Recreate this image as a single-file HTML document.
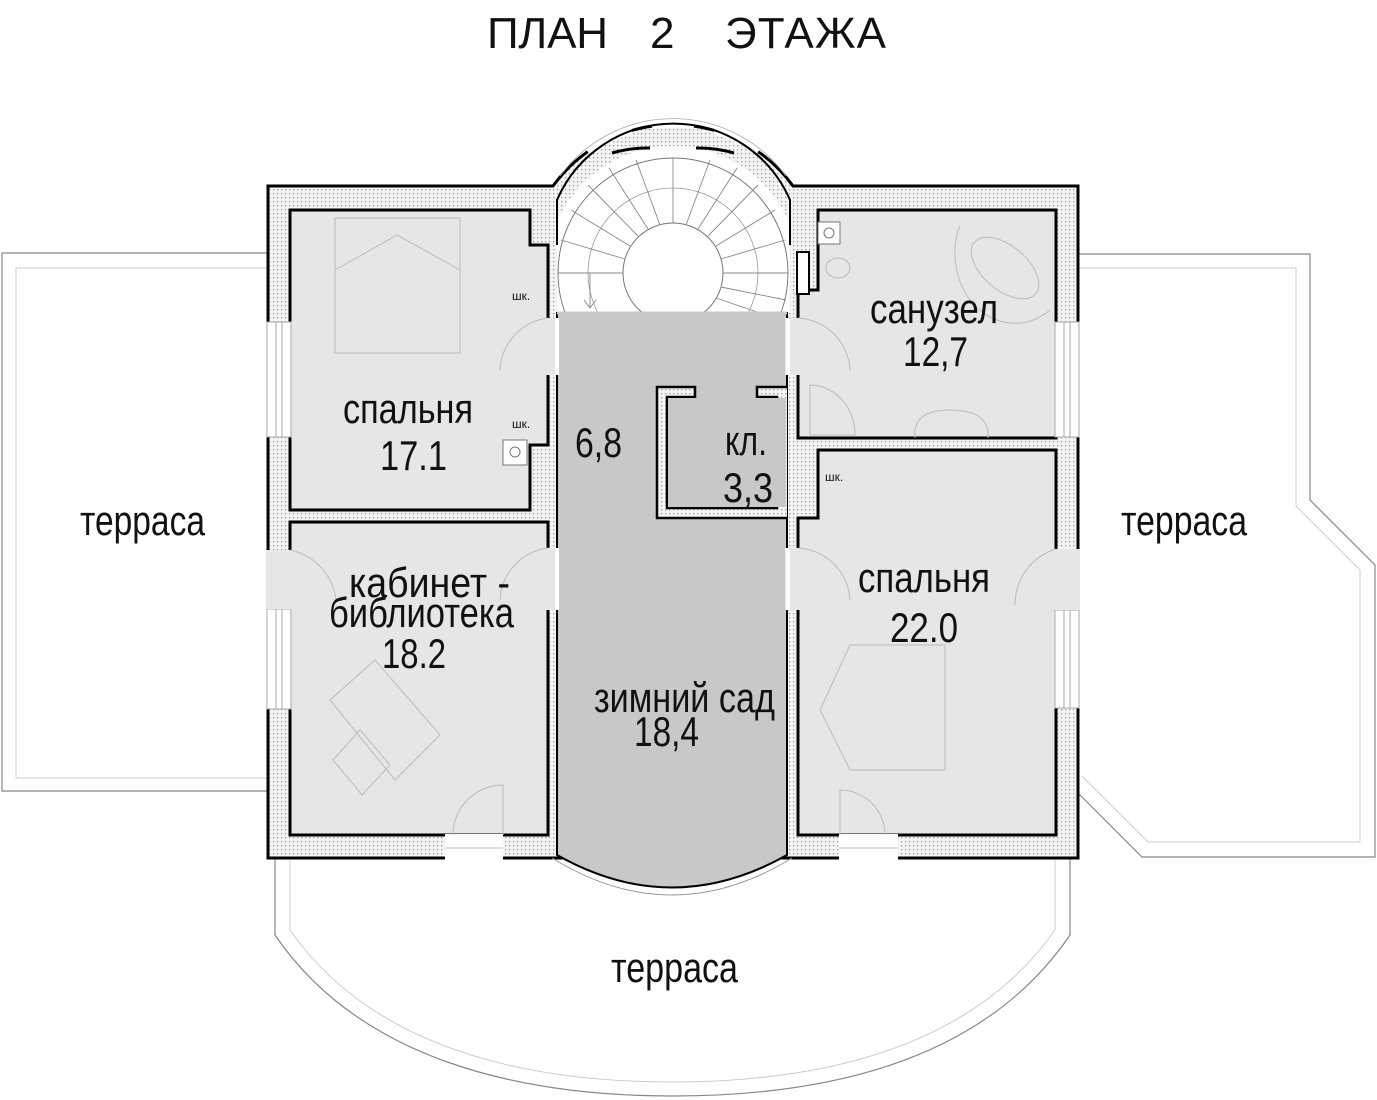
<!DOCTYPE html>
<html><head><meta charset="utf-8"><style>
html,body{margin:0;padding:0;background:#fff;}
svg{display:block;}
text{font-family:"Liberation Sans",sans-serif;fill:#111;}
</style></head><body>
<svg width="1377" height="1100" viewBox="0 0 1377 1100" xmlns="http://www.w3.org/2000/svg">
<defs>
<pattern id="dots" width="4" height="4" patternUnits="userSpaceOnUse">
<rect width="4" height="4" fill="#f4f4f4"/><rect x="1" y="1" width="1.3" height="1.3" fill="#9a9a9a"/>
</pattern>
<clipPath id="stairclip"><rect x="557" y="120" width="233" height="193"/></clipPath>
</defs>

<text x="487" y="48" font-size="44" textLength="121">ПЛАН</text>
<text x="650" y="48" font-size="44">2</text>
<text x="725" y="48" font-size="44" textLength="161">ЭТАЖА</text>

<g fill="none" stroke="#888" stroke-width="1.2">
<path d="M268,253 H2 V791 H268"/>
<path d="M1078,254 H1310 V500 L1375,565 V857 H1142 L1078,793"/>
<path d="M275,858 V935 C360,1060 520,1096 672,1096 C830,1096 985,1060 1070,935 V858"/>
</g>
<g fill="none" stroke="#ccc" stroke-width="1">
<path d="M268,268 H16 V778 H268"/>
<path d="M1078,268 H1296 V506 L1360,570 V842 H1148 L1082,776"/>
<path d="M290,860 V930 C372,1048 525,1082 672,1082 C822,1082 972,1048 1055,930 V860"/>
</g>

<path d="M268,186 L553,186 A148,148 0 0 1 793,186 L1078,186 L1078,858 L268,858 Z" fill="url(#dots)" stroke="#000" stroke-width="3"/>
<g fill="none" stroke="#fff" stroke-width="6">
<path d="M588,152 A148,148 0 0 1 632,131"/>
<path d="M652,126 A148,148 0 0 1 694,126"/>
<path d="M714,131 A148,148 0 0 1 758,152"/>
</g>
<g fill="none" stroke="#aaa" stroke-width="0.8">
<path d="M560,176 A140,140 0 0 1 786,176"/>
</g>

<g clip-path="url(#stairclip)">
<circle cx="673" cy="273" r="127" fill="#fff"/>
<circle cx="673" cy="273" r="115" fill="#fff" stroke="#777" stroke-width="1"/>
<circle cx="673" cy="273" r="50" fill="#fff" stroke="#777" stroke-width="1"/>
<circle cx="673" cy="273" r="85" fill="none" stroke="#999" stroke-width="0.8"/>
<g stroke="#888" stroke-width="0.9">
<line x1="623" y1="273" x2="558" y2="273"/>
<line x1="625" y1="259" x2="561" y2="240"/>
<line x1="630" y1="246" x2="571" y2="210"/>
<line x1="638" y1="236" x2="588" y2="185"/>
<line x1="648" y1="229" x2="609" y2="168"/>
<line x1="660" y1="225" x2="636" y2="160"/>
<line x1="673" y1="223" x2="673" y2="158"/>
<line x1="686" y1="225" x2="710" y2="160"/>
<line x1="698" y1="229" x2="737" y2="168"/>
<line x1="708" y1="236" x2="758" y2="185"/>
<line x1="716" y1="246" x2="775" y2="210"/>
<line x1="721" y1="259" x2="785" y2="240"/>
<line x1="723" y1="273" x2="788" y2="273"/>
<line x1="721" y1="287" x2="786" y2="300"/>
<line x1="716" y1="298" x2="760" y2="313"/>
<line x1="590" y1="273" x2="590" y2="308"/>
<polyline points="584,300 590,308 596,300" fill="none"/>
</g>
</g>
<path d="M557,245 L557,200 A127,127 0 0 1 790,200 L790,245" fill="none" stroke="#000" stroke-width="2"/>
<g fill="none" stroke="#000" stroke-width="3">
<path d="M612,153 A127,127 0 0 1 650,148"/>
<path d="M696,148 A127,127 0 0 1 734,153"/>
</g>

<path d="M290,210 H530 V245 H548 V445 H530 V510 H290 Z" fill="#e6e6e6" stroke="#000" stroke-width="3"/>
<path d="M290,522 H548 V835 H290 Z" fill="#e6e6e6" stroke="#000" stroke-width="3"/>
<path d="M557,313 H787 V855 Q672,920 557,855 Z" fill="#c8c8c8" stroke="#000" stroke-width="2"/>
<path d="M557,313 H787" stroke="#c8c8c8" stroke-width="3"/>
<path d="M552,858 Q672,932 792,858" fill="none" stroke="#999" stroke-width="1"/>
<path d="M787,387 H757 V397 H777 V508 H667 V397 H695 V387 H657 V518 H787" fill="url(#dots)" stroke="#000" stroke-width="2.5"/>
<rect x="668" y="398" width="118" height="109" fill="#c8c8c8"/>
<path d="M818,210 H1056 V438 H798 V290 H818 Z" fill="#e6e6e6" stroke="#000" stroke-width="3"/>
<path d="M818,450 H1056 V835 H798 V518 H818 Z" fill="#e6e6e6" stroke="#000" stroke-width="3"/>

<rect x="546" y="318" width="13" height="57" fill="#e6e6e6"/>
<rect x="546" y="548" width="13" height="62" fill="#e6e6e6"/>
<rect x="785" y="318" width="15" height="57" fill="#e6e6e6"/>
<rect x="785" y="548" width="15" height="62" fill="#e6e6e6"/>
<line x1="557" y1="318" x2="557" y2="375" stroke="#fff" stroke-width="4"/>
<line x1="557" y1="548" x2="557" y2="610" stroke="#fff" stroke-width="4"/>
<line x1="788" y1="318" x2="788" y2="375" stroke="#fff" stroke-width="4"/>
<line x1="788" y1="548" x2="788" y2="610" stroke="#fff" stroke-width="4"/>

<g fill="#fff" stroke="#aaa" stroke-width="1">
<rect x="267" y="322" width="24" height="115"/>
<rect x="267" y="609" width="24" height="100"/>
<rect x="1055" y="322" width="24" height="115"/>
<rect x="1055" y="610" width="24" height="98"/>
</g>
<g stroke="#aaa" stroke-width="1">
<line x1="276" y1="322" x2="276" y2="437"/><line x1="282" y1="322" x2="282" y2="437"/>
<line x1="276" y1="609" x2="276" y2="709"/><line x1="282" y1="609" x2="282" y2="709"/>
<line x1="1064" y1="322" x2="1064" y2="437"/><line x1="1070" y1="322" x2="1070" y2="437"/>
<line x1="1064" y1="610" x2="1064" y2="708"/><line x1="1070" y1="610" x2="1070" y2="708"/>
</g>
<rect x="266" y="550" width="26" height="59" fill="#e6e6e6"/>
<rect x="1054" y="549" width="26" height="61" fill="#e6e6e6"/>
<rect x="445" y="834" width="58" height="26" fill="#fff"/>
<rect x="839" y="834" width="59" height="26" fill="#fff"/>
<line x1="445" y1="848" x2="503" y2="848" stroke="#bbb"/>
<line x1="839" y1="848" x2="898" y2="848" stroke="#bbb"/>

<g fill="none" stroke="#bbb" stroke-width="1">
<path d="M503,835 V785 A50,50 0 0 0 453,835"/>
<path d="M840,835 V790 A45,45 0 0 1 885,835"/>
<path d="M290,550 A58,58 0 0 1 336,600"/>
<path d="M1056,549 A58,58 0 0 0 1015,605"/>
<path d="M548,318 A55,55 0 0 0 500,370"/>
<path d="M798,318 A55,55 0 0 1 850,370"/>
<path d="M548,548 A55,55 0 0 0 500,600"/>
<path d="M798,548 A55,55 0 0 1 850,600"/>
<rect x="335" y="218" width="125" height="135"/>
<path d="M335,270 L397,235 L460,270"/>
<path d="M330,700 L375,660 L440,735 L395,780 Z"/>
<path d="M333,760 L360,730 L390,765 L362,795 Z"/>
<path d="M820,710 L850,645 H945 V770 H850 Z"/>
<path d="M960,225 A60,70 0 0 0 1050,310"/>
<ellipse cx="1005" cy="268" rx="40" ry="22" transform="rotate(40 1005 268)"/>
<path d="M915,438 Q912,410 950,410 Q990,410 988,438"/>
<path d="M810,385 A45,50 0 0 1 855,435 H810 Z"/>
<ellipse cx="838" cy="268" rx="12" ry="10"/>
</g>
<g fill="#fff" stroke="#777" stroke-width="1">
<rect x="503" y="440" width="24" height="25"/><circle cx="515" cy="452" r="5"/>
<rect x="818" y="222" width="22" height="22"/><circle cx="829" cy="233" r="5"/>
<rect x="797" y="252" width="12" height="42" stroke="#000" stroke-width="2"/>
</g>

<text x="512" y="300" font-size="12">шк.</text>
<text x="512" y="428" font-size="12">шк.</text>
<text x="825" y="481" font-size="12">шк.</text>

<g font-size="42">
<text x="343" y="423" textLength="130" lengthAdjust="spacingAndGlyphs">спальня</text>
<text x="380" y="470" textLength="67" lengthAdjust="spacingAndGlyphs">17.1</text>
<text x="575" y="457" textLength="47" lengthAdjust="spacingAndGlyphs">6,8</text>
<text x="725" y="455" textLength="42" lengthAdjust="spacingAndGlyphs">кл.</text>
<text x="723" y="502" textLength="50" lengthAdjust="spacingAndGlyphs">3,3</text>
<text x="870" y="323" textLength="128" lengthAdjust="spacingAndGlyphs">санузел</text>
<text x="903" y="366" textLength="65" lengthAdjust="spacingAndGlyphs">12,7</text>
<text x="858" y="592" textLength="132" lengthAdjust="spacingAndGlyphs">спальня</text>
<text x="890" y="642" textLength="68" lengthAdjust="spacingAndGlyphs">22.0</text>
<text x="349" y="597" textLength="161" lengthAdjust="spacingAndGlyphs">кабинет -</text>
<text x="329" y="627" textLength="185" lengthAdjust="spacingAndGlyphs">библиотека</text>
<text x="382" y="668" textLength="64" lengthAdjust="spacingAndGlyphs">18.2</text>
<text x="594" y="712" textLength="181" lengthAdjust="spacingAndGlyphs">зимний сад</text>
<text x="634" y="746" textLength="65" lengthAdjust="spacingAndGlyphs">18,4</text>
<text x="80" y="535" textLength="125" lengthAdjust="spacingAndGlyphs">терраса</text>
<text x="1121" y="535" textLength="126" lengthAdjust="spacingAndGlyphs">терраса</text>
<text x="611" y="982" textLength="127" lengthAdjust="spacingAndGlyphs">терраса</text>
</g>
</svg>
</body></html>
